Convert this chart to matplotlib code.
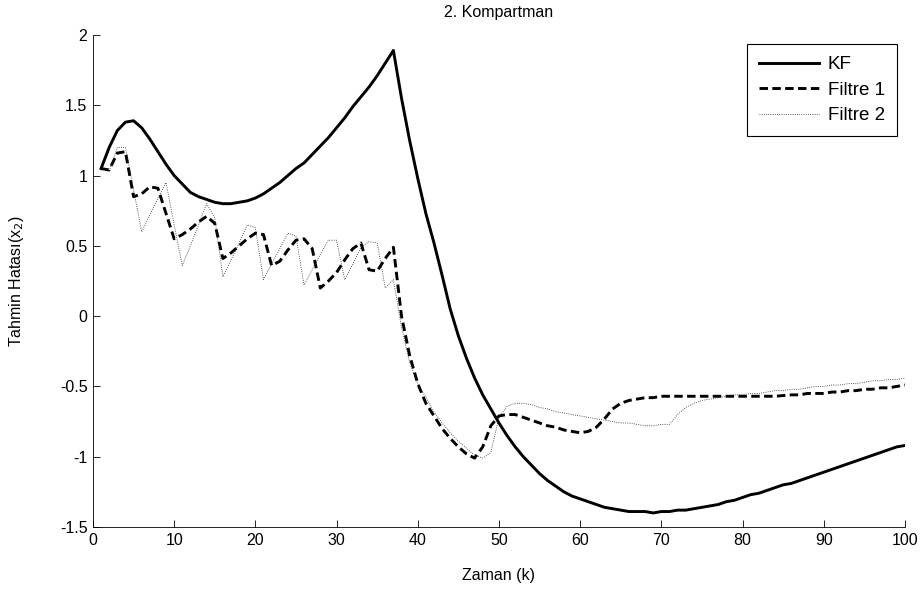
import matplotlib
matplotlib.use("Agg")
import matplotlib.pyplot as plt
import numpy as np

plt.rcParams["font.family"] = ["Liberation Sans", "DejaVu Sans"]
plt.rcParams["axes.unicode_minus"] = False

k = np.arange(1, 101)

kf = [1.05, 1.20, 1.32, 1.38, 1.39, 1.34, 1.26, 1.17, 1.08, 1.00,
      0.94, 0.88, 0.85, 0.83, 0.81, 0.80, 0.80, 0.81, 0.82, 0.84,
      0.87, 0.91, 0.95, 1.00, 1.05, 1.09, 1.15, 1.21, 1.27, 1.34,
      1.41, 1.49, 1.56, 1.63, 1.71, 1.80, 1.89, 1.55, 1.25, 0.98,
      0.73, 0.52, 0.29, 0.05, -0.14, -0.30, -0.44, -0.56, -0.66, -0.76,
      -0.85, -0.93, -1.00, -1.06, -1.12, -1.17, -1.21, -1.25, -1.28, -1.30,
      -1.32, -1.34, -1.36, -1.37, -1.38, -1.39, -1.39, -1.39, -1.40, -1.39,
      -1.39, -1.38, -1.38, -1.37, -1.36, -1.35, -1.34, -1.32, -1.31, -1.29,
      -1.27, -1.26, -1.24, -1.22, -1.20, -1.19, -1.17, -1.15, -1.13, -1.11,
      -1.09, -1.07, -1.05, -1.03, -1.01, -0.99, -0.97, -0.95, -0.93, -0.92]

filtre1 = [1.05, 1.04, 1.16, 1.17, 0.85, 0.87, 0.92, 0.91, 0.73, 0.55,
           0.58, 0.62, 0.67, 0.71, 0.66, 0.41, 0.45, 0.50, 0.55, 0.59,
           0.58, 0.36, 0.39, 0.47, 0.54, 0.55, 0.48, 0.20, 0.25, 0.31,
           0.40, 0.48, 0.52, 0.33, 0.32, 0.41, 0.49, 0.00, -0.28, -0.48,
           -0.62, -0.71, -0.80, -0.87, -0.93, -0.98, -1.01, -0.93, -0.78, -0.71,
           -0.70, -0.70, -0.72, -0.74, -0.76, -0.78, -0.79, -0.81, -0.82, -0.83,
           -0.82, -0.79, -0.73, -0.66, -0.62, -0.60, -0.59, -0.58, -0.58, -0.57,
           -0.57, -0.57, -0.57, -0.57, -0.57, -0.57, -0.57, -0.57, -0.57, -0.57,
           -0.57, -0.57, -0.57, -0.57, -0.565, -0.56, -0.56, -0.55, -0.55, -0.55,
           -0.54, -0.54, -0.53, -0.53, -0.52, -0.52, -0.51, -0.51, -0.50, -0.49]

filtre2 = [1.05, 1.03, 1.20, 1.20, 0.90, 0.60, 0.72, 0.84, 0.95, 0.65,
           0.36, 0.50, 0.65, 0.80, 0.70, 0.28, 0.40, 0.52, 0.65, 0.63,
           0.26, 0.37, 0.48, 0.59, 0.57, 0.22, 0.33, 0.44, 0.54, 0.54,
           0.26, 0.37, 0.49, 0.53, 0.52, 0.20, 0.26, -0.08, -0.33, -0.48,
           -0.58, -0.68, -0.76, -0.83, -0.89, -0.94, -0.99, -1.01, -0.97, -0.72,
           -0.64, -0.62, -0.62, -0.63, -0.65, -0.66, -0.68, -0.69, -0.70, -0.71,
           -0.72, -0.73, -0.74, -0.75, -0.76, -0.76, -0.77, -0.78, -0.78, -0.77,
           -0.77, -0.70, -0.65, -0.62, -0.60, -0.59, -0.58, -0.57, -0.56, -0.56,
           -0.55, -0.55, -0.54, -0.53, -0.53, -0.52, -0.52, -0.51, -0.50, -0.50,
           -0.49, -0.49, -0.48, -0.48, -0.47, -0.46, -0.46, -0.45, -0.45, -0.44]

fig = plt.figure(figsize=(9.24, 5.92), dpi=100)
ax = fig.add_axes([0.1006, 0.1098, 0.8788, 0.8311])

ax.plot(k, kf, color="black", linewidth=2.1, label="KF")
ax.plot(k, filtre1, color="black", linewidth=2.1, dashes=(2.9, 1.5), label="Filtre 1")
ax.plot(k, filtre2, color="0.15", linewidth=0.6, linestyle=":", label="Filtre 2")

ax.set_xlim(0, 100)
ax.set_ylim(-1.5, 2)
ax.set_xticks(np.arange(0, 101, 10))
ax.set_yticks([-1.5, -1, -0.5, 0, 0.5, 1, 1.5, 2])
ax.set_yticklabels(["-1.5", "-1", "-0.5", "0", "0.5", "1", "1.5", "2"])

ax.spines["top"].set_visible(False)
ax.spines["right"].set_visible(False)
ax.tick_params(direction="in", length=5, labelsize=11.5, width=0.6, pad=4)
ax.spines["left"].set_linewidth(0.6)
ax.spines["bottom"].set_linewidth(0.6)

ax.set_title("2. Kompartman", fontsize=11.5, pad=13)
ax.set_xlabel("Zaman (k)", fontsize=11.5)
ax.set_ylabel("Tahmin Hatası(x$_2$)", fontsize=11.5)
ax.xaxis.set_label_coords(0.5, -0.083)
ax.yaxis.set_label_coords(-0.083, 0.5)

leg = ax.legend(loc="upper right", fontsize=13.5, handlelength=3.2, handletextpad=0.45,
                fancybox=False, edgecolor="black", framealpha=1, borderpad=0.65,
                labelspacing=0.45, borderaxespad=0, bbox_to_anchor=(0.990, 0.982))
leg.get_frame().set_linewidth(0.8)

fig.savefig("out.png", dpi=100)
